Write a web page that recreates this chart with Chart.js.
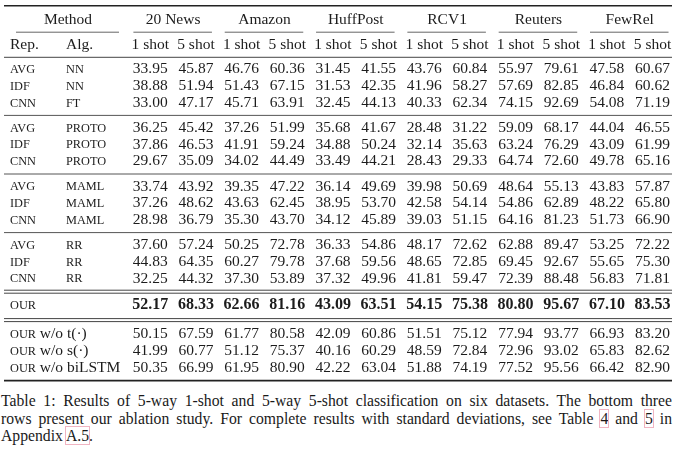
<!DOCTYPE html>
<html lang="en">

<head>
    <meta charset="UTF-8">
    <title>Table 1: 5-way few-shot results</title>
    <script src="https://cdn.jsdelivr.net/npm/chart.js"></script>
    <style>
        body {
            margin: 0;
            background: #fff;
        }
        #wrap {
            position: relative;
            width: 680px;
            height: 462px;
        }
        #tableChart {
            position: absolute;
            left: 0;
            top: 0;
        }
        #caption {
            position: absolute;
            left: 1px;
            top: 392px;
            width: 671px;
            font-family: "Liberation Serif", "Times New Roman", serif;
            font-size: 15.7px;
            line-height: 17.6px;
            color: #1a1a1a;
        }
        #caption .ln {
            display: block;
            white-space: nowrap;
        }
        #caption .full {
            text-align: justify;
            text-align-last: justify;
        }
        .ref {
            outline: 1px solid #f0b4c2;
            outline-offset: 0px;
        }
    </style>
</head>

<body>
    <div id="wrap">
        <canvas id="tableChart" width="680" height="390"></canvas>
        <div id="caption">
            <span class="ln full">Table 1: Results of 5-way 1-shot and 5-way 5-shot classification on six datasets. The bottom three</span>
            <span class="ln full">rows present our ablation study. For complete results with standard deviations, see Table <span class="ref">4</span> and <span class="ref">5</span> in</span>
            <span class="ln">Appendix <span class="ref">A.5</span>.</span>
        </div>
    </div>

    <script>
        // column headers
        const datasetNames = ['20 News', 'Amazon', 'HuffPost', 'RCV1', 'Reuters', 'FewRel'];
        const shotLabels = ['1 shot', '5 shot'];

        // accuracies: 20 News 1/5, Amazon 1/5, HuffPost 1/5, RCV1 1/5, Reuters 1/5, FewRel 1/5
        const avgNN = [33.95, 45.87, 46.76, 60.36, 31.45, 41.55, 43.76, 60.84, 55.97, 79.61, 47.58, 60.67];
        const idfNN = [38.88, 51.94, 51.43, 67.15, 31.53, 42.35, 41.96, 58.27, 57.69, 82.85, 46.84, 60.62];
        const cnnFT = [33.00, 47.17, 45.71, 63.91, 32.45, 44.13, 40.33, 62.34, 74.15, 92.69, 54.08, 71.19];

        const avgProto = [36.25, 45.42, 37.26, 51.99, 35.68, 41.67, 28.48, 31.22, 59.09, 68.17, 44.04, 46.55];
        const idfProto = [37.86, 46.53, 41.91, 59.24, 34.88, 50.24, 32.14, 35.63, 63.24, 76.29, 43.09, 61.99];
        const cnnProto = [29.67, 35.09, 34.02, 44.49, 33.49, 44.21, 28.43, 29.33, 64.74, 72.60, 49.78, 65.16];

        const avgMaml = [33.74, 43.92, 39.35, 47.22, 36.14, 49.69, 39.98, 50.69, 48.64, 55.13, 43.83, 57.87];
        const idfMaml = [37.26, 48.62, 43.63, 62.45, 38.95, 53.70, 42.58, 54.14, 54.86, 62.89, 48.22, 65.80];
        const cnnMaml = [28.98, 36.79, 35.30, 43.70, 34.12, 45.89, 39.03, 51.15, 64.16, 81.23, 51.73, 66.90];

        const avgRR = [37.60, 57.24, 50.25, 72.78, 36.33, 54.86, 48.17, 72.62, 62.88, 89.47, 53.25, 72.22];
        const idfRR = [44.83, 64.35, 60.27, 79.78, 37.68, 59.56, 48.65, 72.85, 69.45, 92.67, 55.65, 75.30];
        const cnnRR = [32.25, 44.32, 37.30, 53.89, 37.32, 49.96, 41.81, 59.47, 72.39, 88.48, 56.83, 71.81];

        const ours = [52.17, 68.33, 62.66, 81.16, 43.09, 63.51, 54.15, 75.38, 80.80, 95.67, 67.10, 83.53];

        const oursNoT = [50.15, 67.59, 61.77, 80.58, 42.09, 60.86, 51.51, 75.12, 77.94, 93.77, 66.93, 83.20];
        const oursNoS = [41.99, 60.77, 51.12, 75.37, 40.16, 60.29, 48.59, 72.84, 72.96, 93.02, 65.83, 82.62];
        const oursNoLstm = [50.35, 66.99, 61.95, 80.90, 42.22, 63.04, 51.88, 74.19, 77.52, 95.56, 66.42, 82.90];

        const baselineBlocks = [
            [['AVG', 'NN', avgNN], ['IDF', 'NN', idfNN], ['CNN', 'FT', cnnFT]],
            [['AVG', 'PROTO', avgProto], ['IDF', 'PROTO', idfProto], ['CNN', 'PROTO', cnnProto]],
            [['AVG', 'MAML', avgMaml], ['IDF', 'MAML', idfMaml], ['CNN', 'MAML', cnnMaml]],
            [['AVG', 'RR', avgRR], ['IDF', 'RR', idfRR], ['CNN', 'RR', cnnRR]]
        ];
        const ablationParts = ['t(\u00b7)', 's(\u00b7)', 'biLSTM'];
        const ablationRows = [oursNoT, oursNoS, oursNoLstm];

        // layout (canvas px along y, column units along x)
        const W = 680, H = 390;
        const firstColPx = 150.3, colStep = 45.66;
        const pxToCol = px => (px - firstColPx) / colStep;
        const repX = pxToCol(10), algX = pxToCol(66), methodX = pxToCol(68);
        const ruleL = pxToCol(4), ruleR = pxToCol(672);
        const rowH = 16.7, blockStep = 58.6, firstRowY = 69.4;
        const oursY = 305.2, ablationY = 334.4;

        const SERIF = '"Liberation Serif", "Times New Roman", serif';
        const INK = '#1c1c1c';
        const SC_SIZE = 12.3;

        // build one scatter dataset per table row
        const rowDefs = [];
        baselineBlocks.forEach((block, b) => {
            block.forEach((row, r) => {
                rowDefs.push({ rep: row[0], alg: row[1], values: row[2], y: firstRowY + b * blockStep + r * rowH });
            });
        });
        rowDefs.push({ rep: 'OUR', alg: '', values: ours, y: oursY, bold: true });
        ablationRows.forEach((vals, i) => {
            rowDefs.push({ rep: 'OUR', suffix: ' w/o ' + ablationParts[i], values: vals, y: ablationY + i * rowH });
        });

        const datasets = rowDefs.map(def => ({
            label: def.rep + ' ' + (def.alg || def.suffix || ''),
            data: def.values.map((v, i) => ({ x: i, y: def.y, v: v })),
            pointRadius: 0,
            pointHoverRadius: 0,
            bold: !!def.bold
        }));

        function smallCaps(ctx, text, x, y, size) {
            ctx.font = size + 'px ' + SERIF;
            ctx.fillText(text, x, y);
            return ctx.measureText(text).width;
        }

        const tablePlugin = {
            id: 'tableText',
            afterDatasetsDraw(chart) {
                const ctx = chart.ctx;
                const xs = chart.scales.x, ys = chart.scales.y;
                const px = v => xs.getPixelForValue(v);
                const py = v => ys.getPixelForValue(v);

                ctx.save();
                const hRule = (y, x0, x1, w, col) => {
                    ctx.lineWidth = w;
                    ctx.strokeStyle = col || '#3a3a3a';
                    ctx.beginPath();
                    ctx.moveTo(px(x0), py(y));
                    ctx.lineTo(px(x1), py(y));
                    ctx.stroke();
                };

                // rules
                hRule(5.8, ruleL, ruleR, 1.6, '#222');
                hRule(32.2, pxToCol(16), pxToCol(119), 0.9, '#555');
                datasetNames.forEach((n, g) => hRule(32.2, 2 * g - 0.37, 2 * g + 1 + 0.35, 0.9, '#555'));
                hRule(57.3, ruleL, ruleR, 1, '#444');
                for (let b = 0; b < 3; b++) {
                    hRule(firstRowY + b * blockStep + 2 * rowH + 12.6, ruleL, ruleR, 1, '#555');
                }
                hRule(290.2, ruleL, ruleR, 1, '#444');
                hRule(293.2, ruleL, ruleR, 1, '#444');
                hRule(318.6, ruleL, ruleR, 1, '#444');
                hRule(321.6, ruleL, ruleR, 1, '#444');
                hRule(380.6, ruleL, ruleR, 1.6, '#222');

                ctx.fillStyle = INK;
                ctx.textBaseline = 'middle';

                // header rows
                ctx.font = '15.5px ' + SERIF;
                ctx.textAlign = 'center';
                ctx.fillText('Method', px(methodX), py(20));
                datasetNames.forEach((n, g) => ctx.fillText(n, px(2 * g + 0.5), py(20)));
                datasetNames.forEach((n, g) => {
                    shotLabels.forEach((s, k) => ctx.fillText(s, px(2 * g + k), py(45)));
                });
                ctx.textAlign = 'left';
                ctx.fillText('Rep.', px(repX), py(45));
                ctx.fillText('Alg.', px(algX), py(45));

                // row labels (small caps)
                rowDefs.forEach(def => {
                    const y = py(def.y) + 0.5;
                    ctx.textAlign = 'left';
                    const w = smallCaps(ctx, def.rep, px(repX), y, SC_SIZE);
                    if (def.alg) smallCaps(ctx, def.alg, px(algX), y, SC_SIZE);
                    if (def.suffix) {
                        ctx.font = '15.5px ' + SERIF;
                        ctx.fillText(def.suffix, px(repX) + w, py(def.y));
                    }
                });

                // cells
                ctx.textAlign = 'center';
                chart.data.datasets.forEach((ds, di) => {
                    const meta = chart.getDatasetMeta(di);
                    ctx.font = (ds.bold ? 'bold 16px ' : '15.5px ') + SERIF;
                    meta.data.forEach((pt, i) => {
                        ctx.fillText(ds.data[i].v.toFixed(2), pt.x, pt.y);
                    });
                });
                ctx.restore();
            }
        };

        new Chart(document.getElementById('tableChart'), {
            type: 'scatter',
            data: { datasets: datasets },
            options: {
                responsive: false,
                animation: false,
                events: [],
                layout: { padding: 0 },
                scales: {
                    x: { type: 'linear', display: false, min: pxToCol(0), max: pxToCol(W) },
                    y: { type: 'linear', display: false, reverse: true, min: 0, max: H }
                },
                plugins: {
                    legend: { display: false },
                    tooltip: { enabled: false }
                }
            },
            plugins: [tablePlugin]
        });
    </script>
</body>

</html>
